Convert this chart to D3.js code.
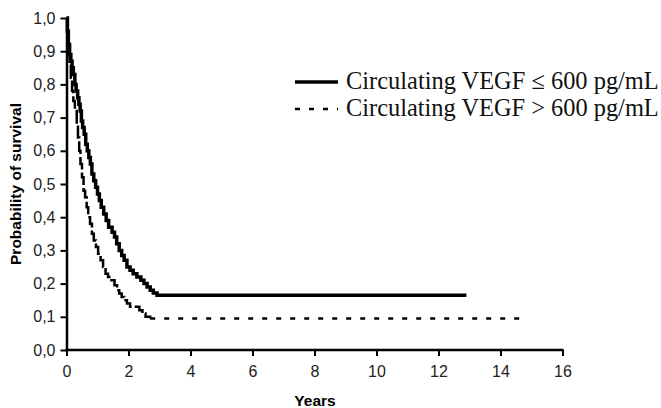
<!DOCTYPE html>
<html><head><meta charset="utf-8">
<script src="https://cdn.jsdelivr.net/npm/d3@7"></script>
<style>body{margin:0;background:#fff}</style>
</head><body>
<svg id="c" width="661" height="408"></svg>
<script>
const seriesNames = ["Circulating VEGF \u2264 600 pg/mL", "Circulating VEGF > 600 pg/mL"];
// Series 1: VEGF <= 600 (time in years, survival probability)
const lowTimes = [0, 0.03, 0.06, 0.1, 0.14, 0.18, 0.22, 0.27, 0.31, 0.36, 0.4, 0.44, 0.48, 0.52, 0.57, 0.62, 0.67, 0.72, 0.77, 0.82, 0.88, 0.94, 1.0, 1.06, 1.12, 1.2, 1.28, 1.36, 1.47, 1.55, 1.62, 1.7, 1.78, 1.86, 1.95, 2.05, 2.15, 2.27, 2.4, 2.5, 2.6, 2.7, 2.8, 2.92, 12.9];
const lowSurv  = [1.0, 0.96, 0.92, 0.89, 0.87, 0.85, 0.83, 0.80, 0.78, 0.76, 0.74, 0.72, 0.69, 0.67, 0.65, 0.62, 0.60, 0.58, 0.56, 0.53, 0.51, 0.49, 0.47, 0.45, 0.43, 0.41, 0.39, 0.37, 0.355, 0.34, 0.32, 0.30, 0.285, 0.27, 0.25, 0.24, 0.23, 0.22, 0.21, 0.20, 0.19, 0.18, 0.172, 0.165, 0.165];
// Series 2: VEGF > 600
const highTimes = [0, 0.03, 0.06, 0.1, 0.14, 0.18, 0.22, 0.27, 0.33, 0.37, 0.41, 0.45, 0.5, 0.55, 0.6, 0.65, 0.7, 0.76, 0.82, 0.88, 0.95, 1.02, 1.1, 1.18, 1.26, 1.34, 1.45, 1.55, 1.63, 1.7, 1.78, 1.86, 1.95, 2.05, 2.35, 2.45, 2.55, 2.7, 14.7];
const highSurv  = [1.0, 0.95, 0.90, 0.86, 0.82, 0.78, 0.75, 0.72, 0.68, 0.64, 0.60, 0.56, 0.52, 0.48, 0.46, 0.43, 0.40, 0.38, 0.35, 0.33, 0.31, 0.29, 0.27, 0.25, 0.23, 0.22, 0.21, 0.195, 0.18, 0.17, 0.16, 0.15, 0.14, 0.13, 0.12, 0.11, 0.10, 0.095, 0.095];
const xTicks = [0, 2, 4, 6, 8, 10, 12, 14, 16];
const xTickLabels = ["0", "2", "4", "6", "8", "10", "12", "14", "16"];
const yTicks = [0, 0.1, 0.2, 0.3, 0.4, 0.5, 0.6, 0.7, 0.8, 0.9, 1.0];
const yTickLabels = ["0,0", "0,1", "0,2", "0,3", "0,4", "0,5", "0,6", "0,7", "0,8", "0,9", "1,0"];
const xTitle = "Years";
const yTitle = "Probability of survival";

const svg = d3.select("#c");
const x = d3.scaleLinear().domain([0, 16]).range([66.5, 562.5]);
const y = d3.scaleLinear().domain([0, 1]).range([350, 18]);

const sansFont = "'Liberation Sans', Arial, sans-serif";

const xAxis = svg.append("g").attr("transform", "translate(0,350)")
  .call(d3.axisBottom(x).tickValues(xTicks).tickFormat((d, i) => xTickLabels[i]).tickSize(6).tickPadding(10).tickSizeOuter(0));
const yAxis = svg.append("g").attr("transform", "translate(66.5,0)")
  .call(d3.axisLeft(y).tickValues(yTicks).tickFormat((d, i) => yTickLabels[i]).tickSize(6).tickPadding(5).tickSizeOuter(0));
[xAxis, yAxis].forEach(g => {
  g.select(".domain").attr("stroke", "#000").attr("stroke-width", 2.5);
  g.selectAll(".tick line").attr("stroke", "#000").attr("stroke-width", 2);
  g.selectAll(".tick text").attr("font-family", sansFont).attr("font-size", 16).attr("fill", "#222");
});
xAxis.select(".domain").attr("d", `M${x(0) - 1},0H${x(16) + 1}`);

svg.append("text").attr("x", 315).attr("y", 406).attr("text-anchor", "middle")
  .attr("font-family", sansFont).attr("font-weight", "bold").attr("font-size", 15.5).text(xTitle);
svg.append("text").attr("transform", "translate(21,184) rotate(-90)").attr("text-anchor", "middle")
  .attr("font-family", sansFont).attr("font-weight", "bold").attr("font-size", 15.5).text(yTitle);

const line = d3.line().x(d => x(d[0])).y(d => y(d[1])).curve(d3.curveStepAfter);
const lowData = lowTimes.map((t, i) => [t, lowSurv[i]]);
const highData = highTimes.map((t, i) => [t, highSurv[i]]);
const tailStart = highTimes[highTimes.length - 2];
const highHead = highData.filter(d => d[0] <= tailStart);
const highTail = highData.filter(d => d[0] >= tailStart);

svg.append("path").datum(highHead).attr("d", line).attr("fill", "none")
  .attr("stroke", "#000").attr("stroke-width", 2.5).attr("stroke-dasharray", "14,3");
svg.append("path").datum(highTail).attr("d", line).attr("fill", "none")
  .attr("stroke", "#000").attr("stroke-width", 2.5).attr("stroke-dasharray", "5,9");
svg.append("path").datum(lowData).attr("d", line).attr("fill", "none")
  .attr("stroke", "#000").attr("stroke-width", 3.5).attr("stroke-linejoin", "miter");

// Legend
const leg = svg.append("g");
const rows = [{y: 82, dash: null, w: 3.5}, {y: 109, dash: "5,9", w: 2.5}];
rows.forEach((r, i) => {
  leg.append("line").attr("x1", 295).attr("x2", 338).attr("y1", r.y).attr("y2", r.y)
    .attr("stroke", "#000").attr("stroke-width", r.w).attr("stroke-dasharray", r.dash);
  const t = leg.append("text").attr("x", 346).attr("y", r.y + 7)
    .attr("font-family", "'Liberation Serif', 'Times New Roman', serif").attr("font-size", 20)
    .attr("fill", "#111").text(seriesNames[i]);
  const len = t.node().getComputedTextLength();
  t.attr("font-size", 20 * 313 / len);
});
</script>
</body></html>
